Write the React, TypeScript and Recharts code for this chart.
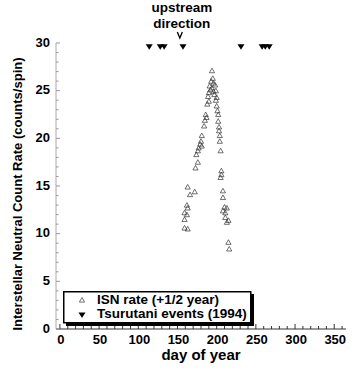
import React from 'react';
import { ScatterChart, Scatter, XAxis, YAxis, ReferenceDot, Legend } from 'recharts';

// ISN rate (+1/2 year): day of year and count rate
const isnDays = [
  194, 193, 196, 198, 191, 194, 199, 190, 197, 189, 200, 188, 200, 201, 186, 202, 187, 202,
  184, 203, 181, 204, 180, 204, 179, 181, 177, 176, 174, 205, 176, 173, 206, 206, 205, 163,
  172, 166, 208, 208, 162, 163, 159, 162, 159, 210, 213, 208, 211, 211, 215, 213, 159, 163,
  215, 216, 195, 192, 196, 190, 199, 185, 203,
];
const isnRates = [
  27.1, 26.0, 25.8, 25.6, 25.5, 25.3, 25.0, 24.8, 24.6, 24.4, 24.3, 23.6, 23.4, 22.9, 22.5, 22.5,
  22.2, 21.8, 21.3, 20.8, 20.3, 20.3, 19.7, 19.7, 19.4, 19.2, 19.0, 18.7, 18.3, 18.7, 17.5, 16.9,
  16.6, 16.2, 15.9, 14.9, 14.4, 14.1, 14.5, 13.8, 13.0, 12.7, 12.2, 12.0, 11.5, 12.8, 12.7, 12.4,
  12.2, 11.7, 11.4, 11.2, 10.6, 10.5, 9.1, 8.4, 26.3, 25.1, 24.9, 23.9, 24.0, 21.9, 21.2,
];

// Tsurutani events (1994)
const eventDays = [114, 128, 133, 157, 231, 258, 262, 267];
const eventLevel = 29.6;

// upstream direction marker
const upstreamDay = 153;
const upstreamLevel = 30;

const xTicks = [0, 10, 20, 30, 40, 50, 60, 70, 80, 90, 100, 110, 120, 130, 140, 150, 160, 170, 180, 190, 200, 210, 220, 230, 240, 250, 260, 270, 280, 290, 300, 310, 320, 330, 340, 350, 360];
const xLabelTicks = [0, 50, 100, 150, 200, 250, 300, 350];
const yTicks = [0, 1, 2, 3, 4, 5, 6, 7, 8, 9, 10, 11, 12, 13, 14, 15, 16, 17, 18, 19, 20, 21, 22, 23, 24, 25, 26, 27, 28, 29, 30];
const yLabelTicks = [0, 5, 10, 15, 20, 25, 30];

const isnData = isnDays.map((d, i) => ({ day: d, rate: isnRates[i] }));
const eventData = eventDays.map((d) => ({ day: d, rate: eventLevel }));

const FONT = '"Liberation Sans", Arial, Helvetica, sans-serif';

const XTick = (props: any) => {
  const { x, y, payload, side, color } = props;
  const v = payload.value;
  const major = xLabelTicks.includes(v);
  const len = major ? 5 : 3;
  return (
    <g>
      <line x1={x} y1={y} x2={x} y2={y - len} stroke={color} strokeWidth={1} />
      {side === 'bottom' && major ? (
        <text x={x + 1} y={y + 15} textAnchor="middle" fontFamily={FONT} fontWeight="bold" fontSize={13} fill="#000">
          {v}
        </text>
      ) : null}
    </g>
  );
};

const YTick = (props: any) => {
  const { x, y, payload, side, color } = props;
  const v = payload.value;
  const major = yLabelTicks.includes(v);
  const len = major ? 4 : 2.5;
  return (
    <g>
      <line x1={x} y1={y} x2={x + len} y2={y} stroke={color} strokeWidth={1} />
      {side === 'left' && major ? (
        <text x={x - 6} y={y + 3.5} textAnchor="end" fontFamily={FONT} fontWeight="bold" fontSize={13} fill="#000">
          {v}
        </text>
      ) : null}
    </g>
  );
};

const OpenTriangle = (props: any) => {
  const { cx, cy } = props;
  if (cx == null || cy == null) return null;
  return (
    <path
      d={`M${cx - 2.6},${cy + 2.1} L${cx},${cy - 2.5} L${cx + 2.6},${cy + 2.1} Z`}
      fill="none"
      stroke="#333"
      strokeWidth={0.7}
    />
  );
};

const DownTriangle = (props: any) => {
  const { cx, cy } = props;
  if (cx == null || cy == null) return null;
  return <path d={`M${cx - 3.5},${cy - 2.5} L${cx + 3.5},${cy - 2.5} L${cx},${cy + 3} Z`} fill="#000" />;
};

const UpstreamMarker = (props: any) => {
  const { cx, cy } = props;
  if (cx == null || cy == null) return null;
  return (
    <g>
      <text x={cx + 2} y={cy - 31} textAnchor="middle" fontFamily={FONT} fontWeight="bold" fontSize={13.5} fill="#000">
        upstream
      </text>
      <text x={cx + 2} y={cy - 15} textAnchor="middle" fontFamily={FONT} fontWeight="bold" fontSize={13.5} fill="#000">
        direction
      </text>
      <path d={`M${cx - 2.5},${cy - 11} L${cx},${cy - 5} L${cx + 2.5},${cy - 11}`} fill="none" stroke="#000" strokeWidth={1.3} />
    </g>
  );
};

const LegendBox = () => (
  <svg width={194} height={38} style={{ display: 'block' }}>
    <rect x={3} y={3} width={188} height={32} fill="#000" />
    <rect x={0.75} y={0.75} width={187} height={31} fill="#fff" stroke="#000" strokeWidth={1.5} />
    <path d="M16.4,11.1 L19,6.5 L21.6,11.1 Z" fill="none" stroke="#444" strokeWidth={0.75} />
    <text x={34} y={13} fontFamily={FONT} fontWeight="bold" fontSize={13.5} fill="#000">
      ISN rate (+1/2 year)
    </text>
    <path d="M15.5,21.5 L22.5,21.5 L19,27 Z" fill="#000" />
    <text x={34} y={27} fontFamily={FONT} fontWeight="bold" fontSize={13.5} fill="#000">
      Tsurutani events (1994)
    </text>
  </svg>
);

export default function App() {
  return (
    <div style={{ position: 'absolute', left: 0, top: 0, width: 354, height: 373, background: '#fff' }}>
      <ScatterChart width={354} height={373} margin={{ top: 43, right: 8, bottom: 0, left: 0 }}>
        <XAxis
          xAxisId="b"
          dataKey="day"
          type="number"
          domain={[-5, 365]}
          allowDataOverflow
          ticks={xTicks}
          interval={0}
          orientation="bottom"
          height={44}
          tickSize={0}
          tickMargin={0}
          tickLine={false}
          axisLine={{ stroke: '#333', strokeWidth: 1 }}
          tick={(p: any) => <XTick {...p} side="bottom" color="#333" />}
          label={{
            value: 'day of year',
            position: 'insideBottom',
            offset: 13,
            style: { fontFamily: FONT, fontWeight: 'bold', fontSize: 15, fill: '#000' },
          }}
        />
        <XAxis
          xAxisId="t"
          type="number"
          domain={[-5, 365]}
          allowDataOverflow
          ticks={xTicks}
          interval={0}
          orientation="top"
          height={0}
          tickSize={0}
          tickMargin={0}
          tickLine={false}
          axisLine={{ stroke: '#888', strokeWidth: 1 }}
          tick={(p: any) => <XTick {...p} side="top" color="#888" />}
        />
        <YAxis
          yAxisId="l"
          dataKey="rate"
          type="number"
          domain={[0, 30]}
          allowDataOverflow
          ticks={yTicks}
          interval={0}
          width={56}
          tickSize={0}
          tickMargin={0}
          tickLine={false}
          axisLine={{ stroke: '#aaa', strokeWidth: 1 }}
          tick={(p: any) => <YTick {...p} side="left" color="#999" />}
          label={{
            content: () => (
              <text
                transform="translate(22,194) rotate(-90)"
                textAnchor="middle"
                fontFamily={FONT}
                fontWeight="bold"
                fontSize={13}
                fill="#000"
              >
                Interstellar Neutral Count Rate (counts/spin)
              </text>
            ),
          }}
        />
        <YAxis
          yAxisId="r"
          orientation="right"
          type="number"
          domain={[0, 30]}
          allowDataOverflow
          ticks={yTicks}
          interval={0}
          width={0}
          tickSize={0}
          tickMargin={0}
          tickLine={false}
          axisLine={{ stroke: '#999', strokeWidth: 1 }}
          tick={(p: any) => <YTick {...p} side="right" color="#999" />}
        />
        <Scatter
          name="ISN rate (+1/2 year)"
          data={isnData}
          xAxisId="b"
          yAxisId="l"
          shape={OpenTriangle}
          isAnimationActive={false}
        />
        <Scatter
          name="Tsurutani events (1994)"
          data={eventData}
          xAxisId="b"
          yAxisId="l"
          shape={DownTriangle}
          isAnimationActive={false}
        />
        <ReferenceDot
          x={upstreamDay}
          y={upstreamLevel}
          xAxisId="b"
          yAxisId="l"
          ifOverflow="visible"
          shape={UpstreamMarker}
        />
        <Legend
          layout="vertical"
          align="center"
          verticalAlign="middle"
          content={() => <LegendBox />}
          wrapperStyle={{ position: 'absolute', left: 63, top: 291, width: 194, height: 38 }}
        />
      </ScatterChart>
    </div>
  );
}
